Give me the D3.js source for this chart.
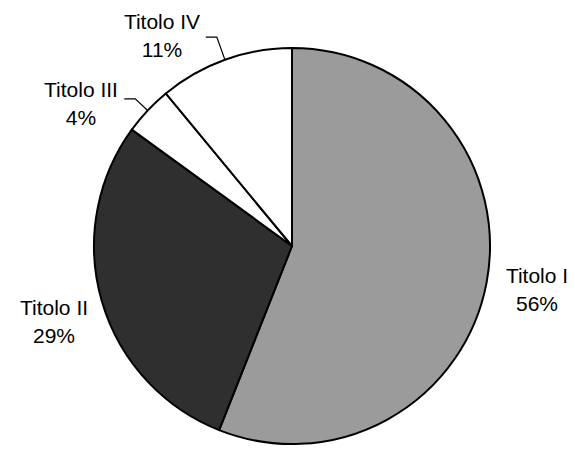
<!DOCTYPE html>
<html><head><meta charset="utf-8">
<script src="https://cdn.jsdelivr.net/npm/d3@7"></script>
<style>body{margin:0;background:#fff}svg{display:block}</style>
</head><body>
<svg id="c" width="575" height="453"></svg>
<script>
const categories = ["Titolo I", "Titolo II", "Titolo III", "Titolo IV"];
const values = [56, 29, 4, 11];
const percentLabels = ["56%", "29%", "4%", "11%"];
const fills = ["#9b9b9b", "#2f2f2f", "#ffffff", "#ffffff"];

const svg = d3.select("#c");
const cx = 292, cy = 246, R = 198;
const g = svg.append("g").attr("transform", `translate(${cx},${cy})`);

const pie = d3.pie().sort(null).value(d => d)(values);
const arc = d3.arc().innerRadius(0).outerRadius(R);

g.selectAll("path.s").data(pie).join("path")
  .attr("d", arc)
  .attr("fill", (d, i) => fills[i])
  .attr("stroke", "#000").attr("stroke-width", 2).attr("stroke-linejoin", "round");

// label placement (offsets relative to slice mid-angle)
const labelPos = [
  {dx: 245, dy: 37, anchor: "middle"},   // Titolo I
  {dx: -238, dy: 69, anchor: "middle"},  // Titolo II
  {dx: -211, dy: -149, anchor: "middle"},// Titolo III
  {dx: -130, dy: -217, anchor: "middle"} // Titolo IV
];
const leaders = [null, null, {r2: 215, h: 11}, {r2: 222, h: 11}];

pie.forEach((d, i) => {
  const a = (d.startAngle + d.endAngle) / 2;
  const L = leaders[i];
  if (L) {
    const p1 = [Math.sin(a) * R, -Math.cos(a) * R];
    const p2 = [Math.sin(a) * L.r2, -Math.cos(a) * L.r2];
    const p3 = [p2[0] - L.h, p2[1]];
    g.append("path").attr("d", d3.line()([p1, p2, p3]))
      .attr("fill", "none").attr("stroke", "#000").attr("stroke-width", 1.2);
  }
  const lp = labelPos[i];
  const t = g.append("text").attr("text-anchor", lp.anchor)
    .attr("font-family", "Liberation Sans, Arial, sans-serif")
    .attr("font-size", 21).attr("fill", "#000");
  t.append("tspan").attr("x", lp.dx).attr("y", lp.dy).text(categories[i]);
  t.append("tspan").attr("x", lp.dx).attr("y", lp.dy + 28).text(percentLabels[i]);
});
</script>
</body></html>
